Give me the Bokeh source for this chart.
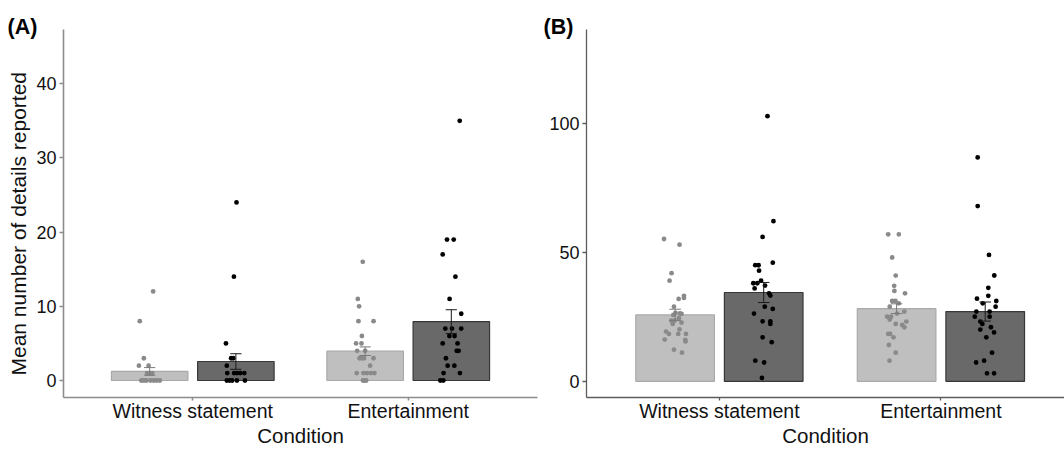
from bokeh.plotting import figure
from bokeh.models import ColumnDataSource, Range1d, FixedTicker, Title
from bokeh.layouts import row
from bokeh.transform import dodge
from bokeh.embed import file_html
from bokeh.resources import INLINE

# ---------------- data ----------------
conditions = ["Witness statement", "Entertainment"]
cond_pos = [1, 2]

# Panel A: bar means and standard errors
a_mean_light = [1.22, 3.95]
a_se_light = [0.52, 0.58]
a_mean_dark = [2.56, 7.94]
a_se_dark = [1.05, 1.60]

# Panel B: bar means and standard errors
b_mean_light = [25.8, 28.2]
b_se_light = [2.2, 1.9]
b_mean_dark = [34.5, 27.1]
b_se_dark = [3.9, 3.7]

# Panel A individual points (values) and their horizontal jitter
a_ws_light = [12, 8, 3, 2, 2, 1, 1, 1, 0, 0, 0, 0, 0, 0, 0]
a_ws_light_jit = [0.016, -0.046, -0.027, -0.050, -0.005, -0.012, 0.001, 0.012,
                  -0.039, -0.027, -0.015, 0.004, 0.019, 0.032, 0.047]
a_ws_dark = [24, 14, 5, 3, 3, 2, 1, 1, 1, 1, 1, 0, 0, 0, 0, 0]
a_ws_dark_jit = [0.003, -0.009, -0.046, -0.022, -0.012, -0.042, -0.040, -0.008,
                 0.005, 0.020, 0.039, -0.042, -0.029, -0.017, 0.005, 0.042]
a_ent_light = [16, 11, 10, 8, 8, 6, 5, 5, 4, 4, 3, 3, 3, 3, 2, 1, 1, 1, 1, 1, 0, 0, 0]
a_ent_light_jit = [-0.011, -0.034, -0.028, -0.031, 0.039, -0.015, -0.042, -0.017,
                   -0.037, 0.000, -0.026, -0.015, -0.005, 0.039, 0.023, -0.039,
                   -0.008, 0.008, 0.026, 0.043, -0.003, -0.010, 0.005]
a_ent_dark = [35, 19, 19, 17, 14, 11, 9, 7, 7, 7, 6, 6, 5, 5, 4, 4, 3, 2, 2, 1, 1, 0, 0]
a_ent_dark_jit = [0.039, -0.020, 0.011, -0.040, 0.019, -0.008, 0.046, -0.028,
                  0.003, 0.046, -0.009, 0.015, -0.040, 0.029, 0.025, 0.034,
                  -0.025, -0.017, 0.014, -0.036, 0.040, -0.051, -0.037]

# Panel B individual points (values) and their horizontal jitter
b_ws_light = [55.3, 53.1, 42.0, 39.1, 33.2, 32.4, 32.0, 29.0, 26.6, 26.4, 26.2,
              25.8, 24.5, 23.6, 23.6, 22.8, 22.3, 20.2, 19.3, 18.4, 18.4, 18.4,
              16.1, 15.5, 16.2, 12.3, 11.1]
b_ws_light_jit = [-0.050, 0.020, -0.016, -0.025, 0.040, 0.040, 0.016, -0.005,
                  0.002, 0.022, 0.029, -0.008, 0.017, -0.017, -0.002, 0.029,
                  -0.011, 0.020, -0.041, -0.028, 0.014, 0.049, 0.046, 0.047,
                  -0.047, -0.005, 0.031]
b_ws_dark = [103.0, 62.2, 56.1, 46.1, 45.1, 45.1, 43.0, 38.1, 38.1, 39.1, 37.2,
             36.1, 34.2, 33.3, 29.0, 28.1, 26.3, 23.3, 23.3, 22.3, 17.1, 15.2,
             8.0, 7.3, 1.3]
b_ws_dark_jit = [0.017, 0.044, -0.005, 0.041, -0.038, -0.023, -0.021, -0.047,
                 -0.029, -0.012, 0.006, -0.041, 0.024, 0.030, 0.005, 0.041,
                 -0.044, -0.005, 0.030, 0.030, -0.005, 0.036, -0.038, 0.002, -0.008]
b_ent_light = [57.1, 57.1, 48.1, 41.1, 37.1, 35.1, 34.2, 31.2, 31.2, 30.3, 29.0,
               27.1, 26.3, 25.1, 25.1, 24.0, 23.2, 22.3, 21.9, 21.0, 18.4, 18.4,
               17.1, 14.1, 11.1, 8.0]
b_ent_light_jit = [-0.038, 0.010, -0.020, -0.004, -0.011, -0.010, 0.038, -0.020,
                   -0.005, 0.010, -0.031, 0.035, 0.002, -0.043, -0.025, -0.031,
                   0.044, -0.004, 0.025, 0.035, -0.038, -0.029, -0.014, -0.035,
                   -0.004, -0.032]
b_ent_dark = [87.0, 68.1, 49.1, 41.1, 36.3, 33.2, 32.1, 31.2, 30.3, 29.0, 27.1,
              27.1, 25.1, 25.1, 23.2, 22.3, 21.0, 20.1, 19.0, 17.1, 11.1, 7.3,
              8.0, 3.1, 3.1]
b_ent_dark_jit = [-0.034, -0.034, 0.017, 0.041, 0.014, 0.014, -0.037, 0.050,
                  -0.011, 0.047, -0.040, 0.020, -0.047, 0.020, -0.022, -0.013,
                  0.026, -0.022, 0.040, 0.005, 0.031, -0.041, -0.005, 0.008, 0.040]

a_yticks = [0, 10, 20, 30, 40]
b_yticks = [0, 50, 100]

# ---------------- styling ----------------
FONT = "Liberation Sans"
LIGHT_FILL, LIGHT_LINE = "#bfbfbf", "#a9a9a9"
DARK_FILL, DARK_LINE = "#696969", "#383838"
LIGHT_PT, DARK_PT = "#8a8a8a", "#000000"
TEXT = "#111111"
OFF = 0.2
BAR_W = 0.355
CAP = 0.026


def make_panel(width, x_end, y_rng, yticks, mean_l, se_l, mean_d, se_d,
               pts, border_left, border_right, axis_color, axis_width,
               tag, tag_offset):
    p = figure(width=width, height=449,
               x_range=Range1d(0.4, x_end), y_range=Range1d(*y_rng),
               output_backend="svg", toolbar_location=None,
               min_border_left=border_left, min_border_right=border_right,
               min_border_top=29, min_border_bottom=52)
    p.xgrid.visible = False
    p.ygrid.visible = False
    p.outline_line_color = None
    p.background_fill_color = "white"
    p.border_fill_color = "white"

    # panel tag "(A)" / "(B)"
    p.title.text = tag
    p.title.align = "left"
    p.title.offset = tag_offset
    p.title.standoff = -18
    p.title.text_font = FONT
    p.title.text_font_style = "bold"
    p.title.text_font_size = "21.5px"
    p.title.text_color = "#000000"

    bars = ColumnDataSource(dict(
        x=cond_pos, ml=mean_l, md=mean_d,
        lo_l=[m - s for m, s in zip(mean_l, se_l)],
        hi_l=[m + s for m, s in zip(mean_l, se_l)],
        lo_d=[m - s for m, s in zip(mean_d, se_d)],
        hi_d=[m + s for m, s in zip(mean_d, se_d)],
    ))
    xr = p.x_range
    p.vbar(x=dodge("x", -OFF, range=xr), top="ml", bottom=0, width=BAR_W, source=bars,
           fill_color=LIGHT_FILL, line_color=LIGHT_LINE, line_width=1.2)
    p.vbar(x=dodge("x", OFF, range=xr), top="md", bottom=0, width=BAR_W, source=bars,
           fill_color=DARK_FILL, line_color=DARK_LINE, line_width=1.2)

    # individual points
    for (vals, jits, ci, light) in pts:
        src = ColumnDataSource(dict(xj=[cond_pos[ci] + j for j in jits], y=vals))
        off = -OFF if light else OFF
        p.scatter(x=dodge("xj", off, range=xr), y="y", source=src, size=4.8,
                  fill_color=LIGHT_PT if light else DARK_PT, line_color=None)

    # error bars
    for off, lo, hi, col in ((-OFF, "lo_l", "hi_l", "#7a7a7a"), (OFF, "lo_d", "hi_d", "#1a1a1a")):
        p.segment(x0=dodge("x", off, range=xr), x1=dodge("x", off, range=xr),
                  y0=lo, y1=hi, source=bars, line_color=col, line_width=1)
        for end in (lo, hi):
            p.segment(x0=dodge("x", off - CAP, range=xr), x1=dodge("x", off + CAP, range=xr),
                      y0=end, y1=end, source=bars, line_color=col, line_width=1)

    # axes
    for ax in (p.xaxis[0], p.yaxis[0]):
        ax.axis_line_color = axis_color
        ax.axis_line_width = axis_width
        ax.major_tick_line_color = axis_color
        ax.major_tick_line_width = axis_width
        ax.minor_tick_line_color = None
        ax.major_tick_in = 0
        ax.major_label_text_font = FONT
        ax.major_label_text_color = TEXT
    p.xaxis.ticker = FixedTicker(ticks=cond_pos)
    p.xaxis.major_label_overrides = {cond_pos[i]: conditions[i] for i in range(2)}
    p.xaxis.major_tick_out = 3
    p.xaxis.major_label_standoff = -1
    p.xaxis.major_label_text_font_size = "19.5px"
    p.xaxis.axis_label = "Condition"
    p.xaxis.axis_label_standoff = -1
    p.xaxis.axis_label_text_font = FONT
    p.xaxis.axis_label_text_font_style = "normal"
    p.xaxis.axis_label_text_font_size = "20.5px"
    p.xaxis.axis_label_text_color = TEXT
    p.yaxis.ticker = FixedTicker(ticks=yticks)
    p.yaxis.major_tick_out = 4
    p.yaxis.major_label_standoff = 3
    p.yaxis.major_label_text_font_size = "18px"
    return p


pA = make_panel(540, 2.6, (-2.29, 47.31), a_yticks, a_mean_light, a_se_light,
                a_mean_dark, a_se_dark,
                [(a_ws_light, a_ws_light_jit, 0, True), (a_ws_dark, a_ws_dark_jit, 0, False),
                 (a_ent_light, a_ent_light_jit, 1, True), (a_ent_dark, a_ent_dark_jit, 1, False)],
                63, 3, "#8c8c8c", 1.6, "(A)", -56)
pB = make_panel(524, 2.558, (-6.3, 136.7), b_yticks, b_mean_light, b_se_light,
                b_mean_dark, b_se_dark,
                [(b_ws_light, b_ws_light_jit, 0, True), (b_ws_dark, b_ws_dark_jit, 0, False),
                 (b_ent_light, b_ent_light_jit, 1, True), (b_ent_dark, b_ent_dark_jit, 1, False)],
                46, 0, "#5c5c5c", 1.3, "(B)", -43)

# y-axis title of panel A, anchored at the bottom of the frame
pA.add_layout(Title(text="Mean number of details reported", align="left", offset=22,
                    standoff=7, text_font=FONT, text_font_style="normal",
                    text_font_size="21px", text_color=TEXT), "left")

layout = row(pA, pB)
open("out.html", "w").write(file_html(layout, INLINE))
